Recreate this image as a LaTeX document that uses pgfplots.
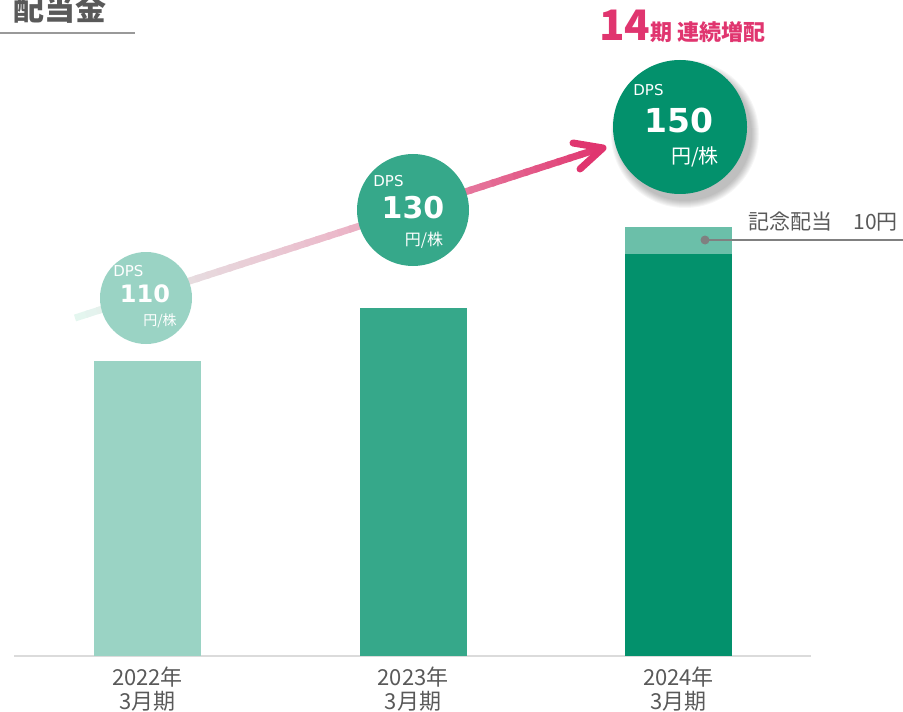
\documentclass[border=0pt]{standalone}
\usepackage{pgfplots}
\pgfplotsset{compat=1.18}
\usepackage{fontspec}
\setmainfont{Noto Sans CJK JP}
\newfontfamily\dv{DejaVu Sans}
\usetikzlibrary{calc}

\definecolor{barA}{HTML}{9AD3C4}
\definecolor{barB}{HTML}{36A88A}
\definecolor{barC}{HTML}{03916C}
\definecolor{barCtop}{HTML}{6BBFA9}
\definecolor{pinkc}{HTML}{E0356F}
\definecolor{textgray}{HTML}{595959}
\definecolor{g0}{HTML}{E4F7F0}
\definecolor{g1}{HTML}{EBB9CA}
\definecolor{g2}{HTML}{E0356F}

\begin{document}
\begin{tikzpicture}
\path[use as bounding box] (0,0) rectangle (451.5pt,-355.5pt);
\begin{axis}[
    at={(7pt,-328pt)}, anchor=south west,
    scale only axis, width=398.5pt, height=328pt,
    ybar stacked, bar width=53.5pt,
    xmin=-0.503, xmax=2.499, ymin=0, ymax=244.8,
    enlargelimits=false,
    axis x line=bottom, axis y line=none,
    x axis line style={-, draw=black!14, line width=1pt},
    xtick={0,1,2},
    xticklabels={{2022年\\3月期},{2023年\\3月期},{2024年\\3月期}},
    major tick length=0pt,
    xticklabel style={align=center, font=\fontsize{11}{12}\selectfont, text=textgray, inner sep=0pt, yshift=-5.5pt},
]
% DPS (yen / share); 2024 split into ordinary + commemorative 10 yen
\addplot+[fill=barA, draw=none, mark=none] coordinates {(0,110) (1,0) (2,0)};
\addplot+[fill=barB, draw=none, mark=none] coordinates {(0,0) (1,130) (2,0)};
\addplot+[fill=barC, draw=none, mark=none] coordinates {(0,0) (1,0) (2,150)};
\addplot+[fill=barCtop, draw=none, mark=none] coordinates {(0,0) (1,0) (2,10)};
\end{axis}

\begin{scope}[x=0.5pt,y=-0.5pt]
% title
\node[font=\bfseries\fontsize{15.5}{16}\selectfont, text=textgray, inner sep=0pt] at (60,9) {配当金};
\draw[black!40, line width=0.6pt] (0,33) -- (135,33);
% 14期 連続増配
\node[anchor=base west, inner sep=0pt, text=pinkc] at (599,41)
  {{\bfseries\fontsize{21}{21}\selectfont 14}{\bfseries\fontsize{11}{12}\selectfont 期 連続増配}};

% gradient arrow
\coordinate (A) at (75,318);
\coordinate (B) at (601,148);
\foreach \i in {0,...,47}{
  \pgfmathsetmacro\ta{\i/48}
  \pgfmathsetmacro\tb{min(1,(\i+1.3)/48)}
  \pgfmathsetmacro\tm{(\i+0.5)/48}
  \pgfmathsetmacro\p{ifthenelse(\tm<0.5, \tm*200, (\tm-0.5)*200)}
  \ifdim\tm pt<0.5pt \def\cc{g1!\p!g0}\else\def\cc{g2!\p!g1}\fi
  \draw[line width=3.5pt, color=\cc] ($(A)!\ta!(B)$) -- ($(A)!\tb!(B)$);
}
\draw[pinkc, line width=3.5pt, line cap=round, line join=round] (573,143) -- (603,148) -- (580,169);

% circles
\fill[barA] (146,298) circle[radius=46];
\fill[barB] (413,210) circle[radius=56];
\foreach \k in {0,...,7}{
  \pgfmathsetmacro\rr{67+\k}
  \fill[black, opacity=0.035] (685,134) circle[radius=\rr];
}
\fill[barC] (680,127) circle[radius=67];

% circle texts
\node[anchor=base west, inner sep=0pt, text=white, font=\dv\fontsize{7.5}{8}\selectfont] at (113,276) {DPS};
\node[inner sep=0pt, text=white, font=\dv\bfseries\fontsize{12}{12}\selectfont] at (145,294) {110};
\node[inner sep=0pt, text=white, font=\fontsize{7}{8}\selectfont] at (160,321) {円/株};

\node[anchor=base west, inner sep=0pt, text=white, font=\dv\fontsize{7.5}{8}\selectfont] at (373,187) {DPS};
\node[inner sep=0pt, text=white, font=\dv\bfseries\fontsize{15}{15}\selectfont] at (413,208) {130};
\node[inner sep=0pt, text=white, font=\fontsize{8}{9}\selectfont] at (424,240) {円/株};

\node[anchor=base west, inner sep=0pt, text=white, font=\dv\fontsize{7.5}{8}\selectfont] at (633,96) {DPS};
\node[inner sep=0pt, text=white, font=\dv\bfseries\fontsize{16.5}{17}\selectfont] at (679,120) {150};
\node[inner sep=0pt, text=white, font=\fontsize{10}{11}\selectfont] at (695,157) {円/株};

% commemorative dividend note
\draw[black!50, line width=1pt] (705,240) -- (903,240);
\fill[black!50] (705,240) circle[radius=4.5];
\node[anchor=west, inner sep=0pt, text=textgray, font=\fontsize{10.5}{12}\selectfont] at (748,222) {記念配当　10円};
\end{scope}
\end{tikzpicture}
\end{document}
